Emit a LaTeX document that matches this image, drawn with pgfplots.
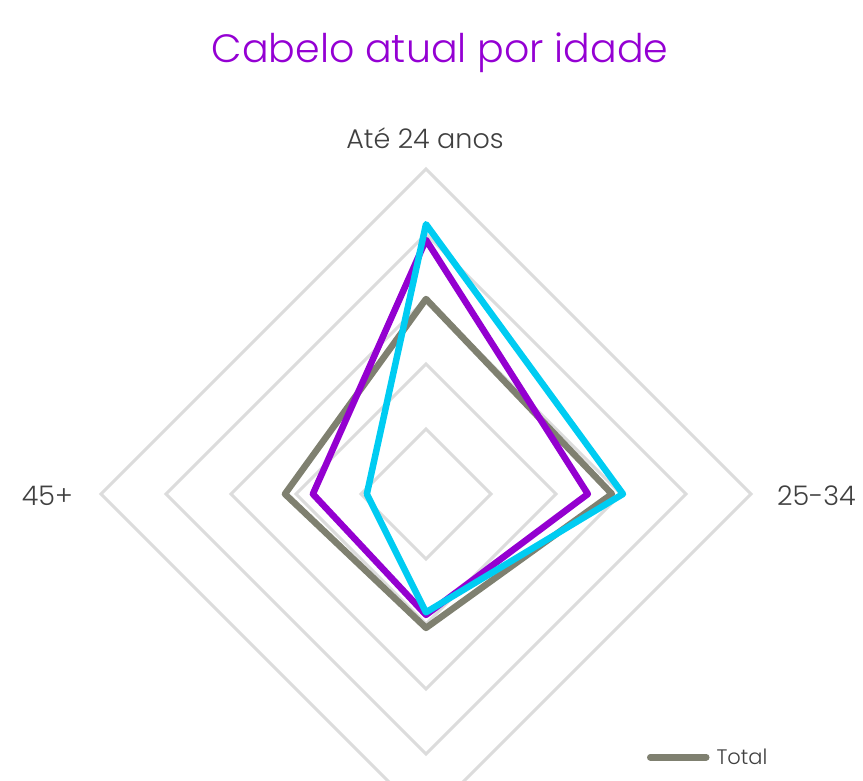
\documentclass[border=0pt]{standalone}
\usepackage{pgfplots}
\pgfplotsset{compat=1.18}
\usepackage{fontspec}
\setmainfont{Poppins Light}
\definecolor{ttl}{HTML}{9400D3}
\definecolor{cpurple}{HTML}{9400D0}
\definecolor{ccyan}{HTML}{00CCF2}
\definecolor{cgray}{HTML}{7F8070}
\definecolor{cgrid}{HTML}{DCDCDC}
\definecolor{ctext}{HTML}{404040}
\begin{document}
\begin{tikzpicture}
\path[use as bounding box] (0,0) rectangle (863bp,-781bp);
\clip (0,0) rectangle (863bp,-781bp);
\node[anchor=base, text=ttl, font=\fontsize{39.5bp}{45bp}\selectfont, inner sep=0pt] at (440bp,-62bp) {Cabelo atual por idade};
\node[anchor=base, text=ctext, font=\fontsize{27bp}{32bp}\selectfont, inner sep=0pt] at (425bp,-148bp) {Até 24 anos};
\node[anchor=base west, text=ctext, font=\fontsize{27bp}{32bp}\selectfont, inner sep=0pt] at (777bp,-505bp) {25-34};
\node[anchor=base east, text=ctext, font=\fontsize{27bp}{32bp}\selectfont, inner sep=0pt] at (73bp,-505bp) {45+};
\begin{axis}[
  x=6.5bp, y=6.5bp,
  xmin=-60, xmax=60, ymin=-60, ymax=60,
  hide axis, clip=false,
  anchor=origin, at={(426bp,-494bp)},
  legend image code/.code={\draw[#1, line cap=round] (0bp,0bp) -- (56bp,0bp);},
  legend style={at={(axis cs:34.0,-40.5)}, anchor=west, draw=none, fill=none,
    inner sep=0pt, outer sep=0pt, font=\fontsize{21bp}{24bp}\selectfont, text=ctext,
    /tikz/every odd column/.append style={column sep=5bp}},
]
\foreach \r in {10,20,30,40,50} {
  \edef\tmp{\noexpand\addplot[cgrid, line width=3bp, forget plot, data cs=polar] coordinates {(90,\r) (0,\r) (270,\r) (180,\r) (90,\r) (0,\r)};}
  \tmp
}
\addplot[cgray, line width=6.5bp, line join=round, data cs=polar] coordinates {(90,30.0) (0,28.6) (270,20.6) (180,21.7) (90,30.0) (0,28.6)};
\addlegendentry{Total}
\addplot[cpurple, line width=6.5bp, line join=round, data cs=polar, forget plot] coordinates {(90,39.1) (0,24.9) (270,18.6) (180,17.4) (90,39.1) (0,24.9)};
\addplot[ccyan, line width=6.5bp, line join=round, data cs=polar, forget plot] coordinates {(90,41.5) (0,30.3) (270,18.2) (180,9.1) (90,41.5) (0,30.3)};
\end{axis}
\end{tikzpicture}
\end{document}
